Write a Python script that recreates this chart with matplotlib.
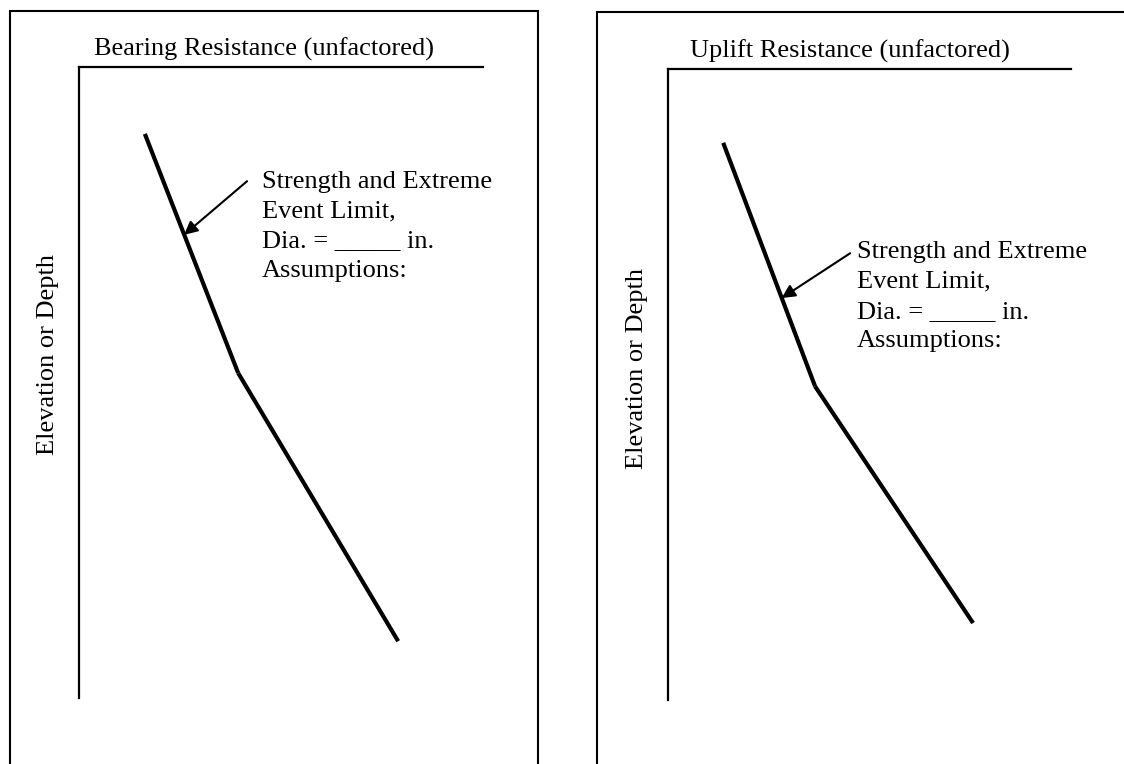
import matplotlib
matplotlib.use("Agg")
import matplotlib.pyplot as plt
from matplotlib.patches import Rectangle

plt.rcParams['font.family'] = ['Liberation Serif', 'DejaVu Serif']

# resistance (x, % of axis) vs elevation/depth (y, % of axis, downward)
bearing_res = [16.3, 39.4, 79.0]
bearing_depth = [10.6, 48.5, 91.0]
uplift_res = [13.7, 36.5, 75.7]
uplift_depth = [11.7, 50.3, 87.8]

titles = ['Bearing Resistance (unfactored)', 'Uplift Resistance (unfactored)']
ylabel = 'Elevation or Depth'
note = 'Strength and Extreme\nEvent Limit,\nDia. = _____ in.\nAssumptions:'

fig = plt.figure(figsize=(11.24, 7.64), dpi=100)

# outer frames (bottom / right edges run off the page)
fig.patches.append(Rectangle((9.5 / 1124, -0.1), (538 - 9.5) / 1124, 1.1 - 11 / 764,
                             transform=fig.transFigure, fill=False, lw=1.5, ec='black'))
fig.patches.append(Rectangle((597 / 1124, -0.1), 0.5, 1.1 - 12.5 / 764,
                             transform=fig.transFigure, fill=False, lw=1.5, ec='black'))

ax1 = fig.add_axes([79 / 1124, 1 - 698 / 764, 404 / 1124, 631 / 764])
ax2 = fig.add_axes([668 / 1124, 1 - 700 / 764, 403 / 1124, 631 / 764])

panels = [
    (ax1, bearing_res, bearing_depth, titles[0], (41.6, 18.1), (26.0, 26.6), (45.3, 16.5), 0.037, 0.544),
    (ax2, uplift_res, uplift_depth, titles[1], (45.2, 29.2), (28.2, 36.3), (46.9, 27.3), 0.055, 0.526),
]

for ax, res, depth, title, tail, head, txt, tx, ly in panels:
    ax.set_xlim(0, 100)
    ax.set_ylim(100, 0)
    for s in ['right', 'bottom']:
        ax.spines[s].set_visible(False)
    for s in ['top', 'left']:
        ax.spines[s].set_linewidth(1.6)
    ax.set_xticks([])
    ax.set_yticks([])
    ax.patch.set_alpha(0)

    # two straight segments with a small break at the kink
    ax.plot(res[:2], depth[:2], color='black', lw=3, solid_capstyle='butt')
    ax.plot(res[1:], depth[1:], color='black', lw=3, solid_capstyle='butt')

    ax.annotate('', xy=head, xytext=tail,
                arrowprops=dict(arrowstyle='-|>', color='black', lw=1.5,
                                mutation_scale=20, shrinkA=0, shrinkB=0))
    ax.text(txt[0], txt[1], note, fontsize=19, va='top', ha='left', linespacing=1.45)

    ax.annotate(title, xy=(tx, 1.0), xycoords='axes fraction', xytext=(0, 8),
                textcoords='offset points', fontsize=19, va='baseline', ha='left')
    ax.text(-0.077, ly, ylabel, transform=ax.transAxes, rotation=90,
            fontsize=19, va='center', ha='center')

fig.savefig('out.png', dpi=100)
